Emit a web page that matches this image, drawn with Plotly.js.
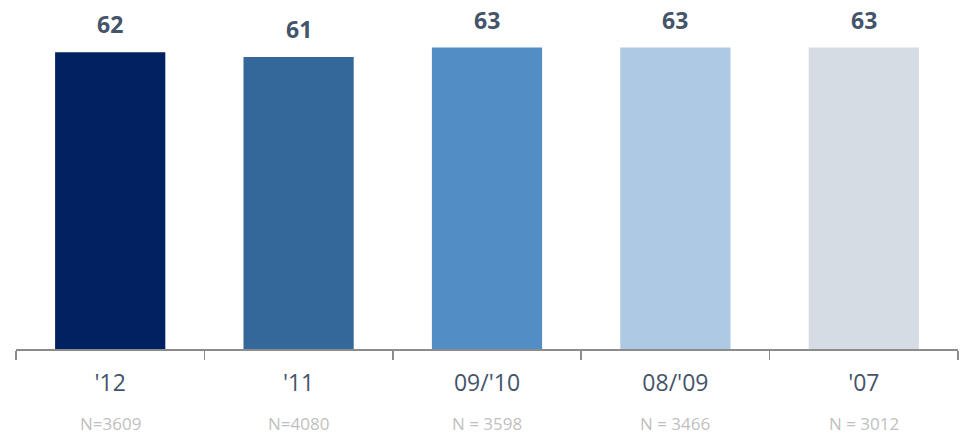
<!DOCTYPE html>
<html>
<head>
<meta charset="utf-8">
<script src="https://cdn.plot.ly/plotly-3.0.1.min.js"></script>
<style>html,body{margin:0;padding:0;background:#fff;}#chart{width:961px;height:435px;}</style>
</head>
<body>
<div id="chart"></div>
<script>
var categories = ["'12", "'11", "09/'10", "08/'09", "'07"];
var values = [62, 61, 63, 63, 63];
var sampleLabels = ["N=3609", "N=4080", "N = 3598", "N = 3466", "N = 3012"];
var barColors = ["#022160", "#34689A", "#538DC6", "#ADC9E4", "#D6DCE4"];

var trace = {
  type: 'bar',
  x: categories,
  y: values,
  marker: {color: barColors, line: {width: 0}},
  hoverinfo: 'none'
};

var annotations = [];
categories.forEach(function(c, i) {
  annotations.push({
    x: c, y: values[i], xref: 'x', yref: 'y',
    text: '<b>' + values[i] + '</b>', showarrow: false,
    yanchor: 'middle', yshift: 28,
    font: {family: 'Open Sans', size: 23, color: '#44546A'}
  });
  annotations.push({
    x: c, y: 0, xref: 'x', yref: 'y',
    text: sampleLabels[i], showarrow: false,
    yanchor: 'middle', yshift: -74,
    font: {family: 'Open Sans', size: 17, color: '#BFBFBF'}
  });
});

var layout = {
  width: 961, height: 435,
  margin: {l: 16, r: 3, t: 14, b: 86},
  paper_bgcolor: '#fff', plot_bgcolor: '#fff',
  showlegend: false,
  bargap: 0.415,
  xaxis: {
    type: 'category',
    showline: true, linecolor: '#8C8C8C', linewidth: 1.5,
    ticks: 'outside', tickson: 'boundaries', ticklen: 9, tickcolor: '#8C8C8C', tickwidth: 1.5,
    ticklabelstandoff: 13,
    tickfont: {family: 'Open Sans', size: 23, color: '#44546A'},
    showgrid: false, zeroline: false
  },
  yaxis: {
    range: [0, 70], visible: false, showgrid: false, zeroline: false
  },
  annotations: annotations
};

Plotly.newPlot('chart', [trace], layout, {staticPlot: true, displayModeBar: false});
</script>
</body>
</html>
